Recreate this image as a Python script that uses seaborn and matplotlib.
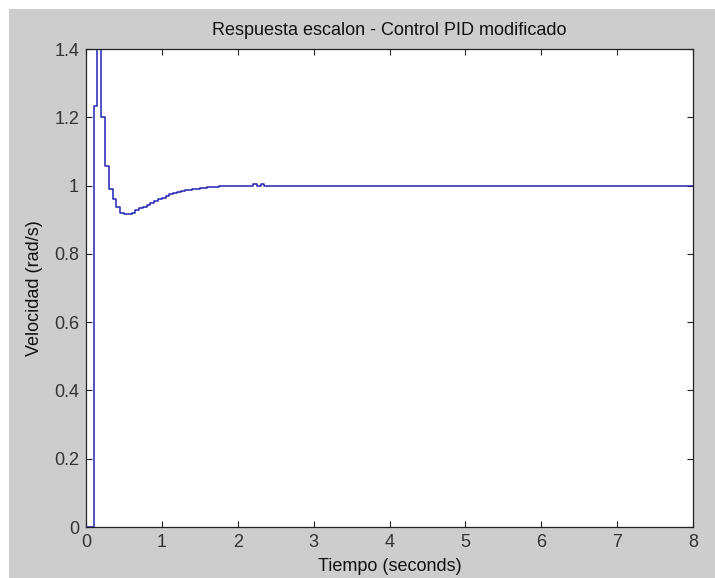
import matplotlib
matplotlib.use("Agg")
import matplotlib.pyplot as plt
from matplotlib.patches import Rectangle
import pandas as pd
import seaborn as sns

# sampled step response (seconds, rad/s)
tiempo = [0.00, 0.05, 0.10, 0.15, 0.20, 0.25, 0.30, 0.35, 0.40, 0.45,
          0.50, 0.55, 0.60, 0.65, 0.70, 0.75, 0.80, 0.85, 0.90, 0.95,
          1.00, 1.05, 1.10, 1.15, 1.20, 1.25, 1.30, 1.35, 1.40, 1.45,
          1.50, 1.55, 1.60, 1.65, 1.70, 1.75, 1.80, 1.85, 1.90, 1.95,
          2.00, 2.05, 2.10, 2.15, 2.20, 2.25, 2.30, 2.35, 8.00]
velocidad = [0.000, 0.000, 1.233, 1.500, 1.200, 1.057, 0.991, 0.960, 0.938, 0.921,
             0.917, 0.917, 0.921, 0.928, 0.933, 0.938, 0.944, 0.950, 0.955, 0.960,
             0.965, 0.970, 0.974, 0.977, 0.980, 0.984, 0.986, 0.988, 0.990, 0.991,
             0.992, 0.994, 0.995, 0.996, 0.997, 0.998, 0.998, 0.999, 0.999, 0.999,
             0.999, 0.999, 0.999, 0.999, 1.004, 0.999, 1.004, 1.000, 1.000]

xticks = [0, 1, 2, 3, 4, 5, 6, 7, 8]
yticks = [0, 0.2, 0.4, 0.6, 0.8, 1.0, 1.2, 1.4]
ytick_labels = ["0", "0.2", "0.4", "0.6", "0.8", "1", "1.2", "1.4"]

df = pd.DataFrame({"t": tiempo, "v": velocidad})

sns.set_style("ticks")
plt.rcParams["font.family"] = ["Liberation Sans", "DejaVu Sans"]
plt.rcParams["xtick.direction"] = "in"
plt.rcParams["ytick.direction"] = "in"

fig = plt.figure(figsize=(7.15, 5.78), dpi=100, facecolor="white")
# grey matlab window area (thin white strip on top/left like the screenshot)
fig.patches.append(Rectangle((9 / 715, 0), 1, 1 - 9 / 578, transform=fig.transFigure,
                             facecolor="#cdcdcd", edgecolor="none", zorder=-10))
ax = fig.add_axes([86 / 715, 1 - 527 / 578, (693 - 86) / 715, (527 - 49) / 578])
ax.set_facecolor("white")

sns.lineplot(data=df, x="t", y="v", ax=ax, estimator=None, drawstyle="steps-post",
             color="#2222b4", linewidth=1.1)

ax.set_xlim(0, 8)
ax.set_ylim(0, 1.4)
ax.set_xticks(xticks)
ax.set_xticklabels([str(x) for x in xticks])
ax.set_yticks(yticks)
ax.set_yticklabels(ytick_labels)
ax.tick_params(axis="both", which="both", top=True, right=True, length=4, width=0.8,
               color="#222222", labelsize=13, labelcolor="#333333")
ax.tick_params(axis="x", pad=5)
ax.tick_params(axis="y", pad=5)
for side in ax.spines.values():
    side.set_color("#222222")
    side.set_linewidth(0.9)

ax.set_title("Respuesta escalon - Control PID modificado", fontsize=13, color="#111111", pad=10)
ax.set_xlabel("Tiempo (seconds)", fontsize=13, color="#111111", labelpad=5)
ax.set_ylabel("Velocidad (rad/s)", fontsize=13, color="#111111", labelpad=8)

fig.savefig("out.png", dpi=100, facecolor=fig.get_facecolor())
plt.close(fig)
